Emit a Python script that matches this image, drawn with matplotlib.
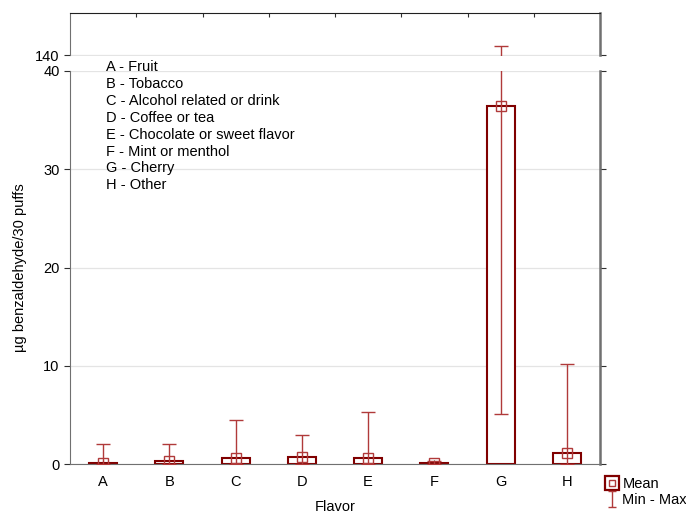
import numpy as np
import matplotlib.pyplot as plt
from matplotlib.lines import Line2D
from matplotlib.path import Path
from matplotlib.legend_handler import HandlerTuple

plt.rcParams['font.family'] = ['Liberation Sans', 'DejaVu Sans']
plt.rcParams['font.size'] = 10.5

# data
flavors = ["A", "B", "C", "D", "E", "F", "G", "H"]
flavor_names = ["Fruit", "Tobacco", "Alcohol related or drink", "Coffee or tea",
                "Chocolate or sweet flavor", "Mint or menthol", "Cherry", "Other"]
means = np.array([0.15, 0.3, 0.6, 0.7, 0.6, 0.1, 36.4, 1.15])
mins = np.array([0.0, 0.0, 0.0, 0.0, 0.0, 0.0, 5.1, 0.0])
maxs = np.array([2.0, 2.05, 4.48, 2.95, 5.26, 0.3, 142.3, 10.2])

bar_edge = "#800000"
whisk = "#b03a3a"
spine_grey = "#707070"

fig = plt.figure(figsize=(6.86, 5.14), dpi=100)
ax = fig.add_axes([70 / 686, 50 / 514, 530 / 686, 393 / 514])
ax_top = fig.add_axes([70 / 686, 458.5 / 514, 530 / 686, 42.5 / 514])

x = np.arange(len(flavors))

for a in (ax, ax_top):
    a.bar(x, means, width=0.42, facecolor="white", edgecolor=bar_edge,
          linewidth=1.5, zorder=2)
    a.errorbar(x, means, yerr=[means - mins, maxs - means], fmt="none",
               ecolor=whisk, elinewidth=1.0, capsize=4.7, capthick=1.0, zorder=3)
    a.plot(x, means, "s", ms=6.5, mfc="none", mec=whisk, mew=1.0, zorder=4)
    a.grid(axis="y", color="#e4e4e4", linewidth=0.9, zorder=0)
    a.set_axisbelow(True)
    a.set_xlim(-0.5, len(flavors) - 0.5)
    for s in a.spines.values():
        s.set_color(spine_grey)

ax.set_ylim(0, 40)
ax.set_yticks([0, 10, 20, 30, 40])
ax.set_xticks(x)
ax.set_xticklabels(flavors)
ax.spines["top"].set_visible(False)
ax.spines["right"].set_linewidth(1.8)
ax.tick_params(axis="y", direction="out", length=4, color="#303030",
               right=True, labelsize=10.5)
ax.tick_params(axis="x", direction="in", length=3, color="#303030",
               pad=8, labelsize=10.5)
ax.set_xlabel("Flavor", labelpad=8)
ax.set_ylabel("µg benzaldehyde/30 puffs", labelpad=12)

ax_top.set_ylim(140, 150)
ax_top.set_yticks([140])
ax_top.spines["bottom"].set_visible(False)
ax_top.spines["top"].set_color("#202020")
ax_top.spines["right"].set_linewidth(1.8)
ax_top.tick_params(axis="y", direction="out", length=4, color="#303030",
                   right=True, labelsize=10.5)
ax_top.xaxis.tick_top()
ax_top.set_xticks(np.arange(0.5, len(flavors) - 0.5, 1.0))
ax_top.tick_params(axis="x", direction="in", length=3, color="#303030",
                   labeltop=False, labelbottom=False)

# flavor key
for i, (f, name) in enumerate(zip(flavors, flavor_names)):
    fig.text(106 / 686, 1 - (67 + i * 16.9) / 514, f"{f} - {name}",
             va="center", ha="left", fontsize=10.5)

# legend
ibeam = Path([(-0.5, -1), (0.5, -1), (0, -1), (0, 1), (-0.5, 1), (0.5, 1)],
             [Path.MOVETO, Path.LINETO, Path.MOVETO, Path.LINETO,
              Path.MOVETO, Path.LINETO])
h_outer = Line2D([], [], ls="none", marker="s", ms=9.5, mfc="none",
                 mec=bar_edge, mew=1.6)
h_inner = Line2D([], [], ls="none", marker="s", ms=5, mfc="none",
                 mec=whisk, mew=1.0)
h_range = Line2D([], [], ls="none", marker=ibeam, ms=11, mfc="none",
                 mec=whisk, mew=1.0)
fig.legend([(h_outer, h_inner), h_range], ["Mean", "Min - Max"],
           handler_map={tuple: HandlerTuple(ndivide=1)},
           loc="upper left", bbox_to_anchor=(605 / 686, 1 - 477 / 514),
           frameon=False, handlelength=0.9, handletextpad=0.3,
           labelspacing=0.12, borderaxespad=0, borderpad=0, fontsize=10.5)

fig.savefig("out.png", dpi=100)
